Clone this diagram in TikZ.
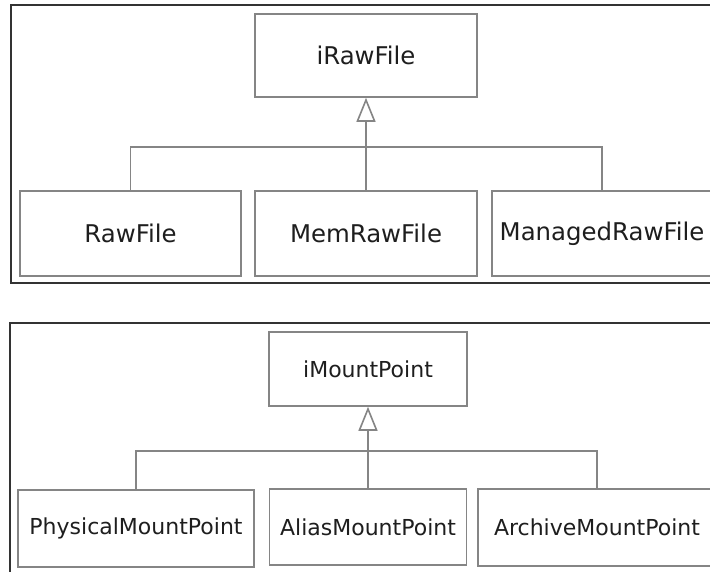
\documentclass[tikz,border=0pt]{standalone}
\usepackage{fontspec}
\setmainfont{DejaVu Sans}
\usetikzlibrary{arrows.meta}
\definecolor{boxgray}{HTML}{858585}
\definecolor{framegray}{HTML}{333333}
\definecolor{txt}{HTML}{1E1E1E}
\tikzset{
  cls/.style={draw=boxgray, line width=1.6pt, rectangle, inner sep=0pt, text=txt},
  bigcls/.style={cls, font=\fontsize{24.4}{28}\selectfont},
  smallcls/.style={cls, font=\fontsize{22}{26}\selectfont},
  link/.style={draw=boxgray, line width=1.6pt},
  inherit/.style={link, -{Triangle[open, length=24pt, width=19pt, line width=1.6pt]}},
  panel/.style={draw=framegray, line width=1.2pt}
}
\begin{document}
\begin{tikzpicture}[x=1pt, y=-1pt]
\useasboundingbox (0,0) rectangle (710,571);
\clip (0,0) rectangle (710,571);
\fill[white] (0,0) rectangle (710,571);

% panel frames
\draw[panel] (11,5) rectangle (716,283);
\draw[panel] (10,323) rectangle (716,580);

% iRawFile hierarchy
\node[bigcls, minimum width=222pt, minimum height=83pt] (irf) at (366,55.5) {iRawFile};
\node[bigcls, minimum width=221pt, minimum height=85pt] (rf) at (130.5,233.5) {RawFile};
\node[bigcls, minimum width=222pt, minimum height=85pt] (mrf) at (366,233.5) {MemRawFile};
\node[bigcls, minimum width=220pt, minimum height=85pt] (grf) at (602,233.5) {ManagedRawFile};
\coordinate (bar1) at (366,147);
\draw[link] (rf.north) |- (bar1) -| (grf.north);
\draw[inherit] (mrf.north) -- (irf.south);

% iMountPoint hierarchy
\node[smallcls, minimum width=198pt, minimum height=74pt] (imp) at (368,369) {iMountPoint};
\node[smallcls, minimum width=236pt, minimum height=77pt] (pmp) at (136,528.5) {PhysicalMountPoint};
\node[smallcls, minimum width=197pt, minimum height=76pt] (amp) at (368,527) {AliasMountPoint};
\node[smallcls, minimum width=238pt, minimum height=77pt] (cmp) at (597,527.5) {ArchiveMountPoint};
\coordinate (bar2) at (368,451);
\draw[link] (pmp.north) |- (bar2) -| (cmp.north);
\draw[inherit] (amp.north) -- (imp.south);
\end{tikzpicture}
\end{document}
